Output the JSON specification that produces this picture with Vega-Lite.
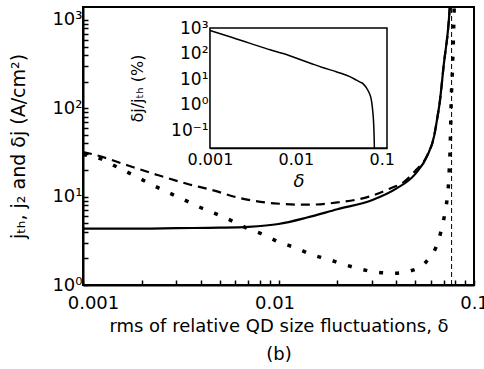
{
  "$schema": "https://vega.github.io/schema/vega-lite/v6.json",
  "autosize": {"type": "none"},
  "padding": {"left": 83, "top": 7, "right": 10, "bottom": 84},
  "width": 391,
  "height": 278,
  "background": "white",
  "config": {
    "font": "DejaVu Sans",
    "view": {"stroke": "black", "strokeWidth": 2},
    "axis": {
      "domainColor": "black", "domainWidth": 2, "tickColor": "black", "tickWidth": 1.5,
      "labelColor": "black", "titleColor": "black", "grid": false, "labelOverlap": false,
      "labelFlush": false, "titleFontWeight": "normal", "zindex": 1
    }
  },
  "datasets": {
    "main": [
      {"series": "jth", "delta": 0.001, "value": 4.35},
      {"series": "jth", "delta": 0.002, "value": 4.35},
      {"series": "jth", "delta": 0.003, "value": 4.4},
      {"series": "jth", "delta": 0.005, "value": 4.45},
      {"series": "jth", "delta": 0.007, "value": 4.55},
      {"series": "jth", "delta": 0.01, "value": 4.9},
      {"series": "jth", "delta": 0.014, "value": 5.8},
      {"series": "jth", "delta": 0.02, "value": 7.2},
      {"series": "jth", "delta": 0.03, "value": 9.1},
      {"series": "jth", "delta": 0.04, "value": 12.3},
      {"series": "jth", "delta": 0.05, "value": 18},
      {"series": "jth", "delta": 0.0577, "value": 29},
      {"series": "jth", "delta": 0.0626, "value": 49},
      {"series": "jth", "delta": 0.0646, "value": 73},
      {"series": "jth", "delta": 0.0667, "value": 114},
      {"series": "jth", "delta": 0.0701, "value": 316},
      {"series": "jth", "delta": 0.0742, "value": 930},
      {"series": "jth", "delta": 0.0752, "value": 1400},
      {"series": "j2", "delta": 0.001, "value": 32},
      {"series": "j2", "delta": 0.0012, "value": 29},
      {"series": "j2", "delta": 0.0017, "value": 22.5},
      {"series": "j2", "delta": 0.0024, "value": 17.6},
      {"series": "j2", "delta": 0.0034, "value": 14},
      {"series": "j2", "delta": 0.0045, "value": 12},
      {"series": "j2", "delta": 0.0064, "value": 9.6},
      {"series": "j2", "delta": 0.0095, "value": 8.4},
      {"series": "j2", "delta": 0.014, "value": 8.1},
      {"series": "j2", "delta": 0.02, "value": 8.6},
      {"series": "j2", "delta": 0.029, "value": 10},
      {"series": "j2", "delta": 0.037, "value": 12.3},
      {"series": "j2", "delta": 0.044, "value": 14.8},
      {"series": "j2", "delta": 0.05, "value": 19.5},
      {"series": "j2", "delta": 0.0577, "value": 29.5},
      {"series": "j2", "delta": 0.0626, "value": 49},
      {"series": "j2", "delta": 0.0646, "value": 73},
      {"series": "j2", "delta": 0.0667, "value": 114},
      {"series": "j2", "delta": 0.0701, "value": 316},
      {"series": "j2", "delta": 0.0742, "value": 930},
      {"series": "j2", "delta": 0.0752, "value": 1400},
      {"series": "dj", "delta": 0.001, "value": 30},
      {"series": "dj", "delta": 0.00125, "value": 26.5},
      {"series": "dj", "delta": 0.0015, "value": 21.5},
      {"series": "dj", "delta": 0.0018, "value": 17.6},
      {"series": "dj", "delta": 0.0022, "value": 14},
      {"series": "dj", "delta": 0.0026, "value": 11.7},
      {"series": "dj", "delta": 0.0032, "value": 9.5},
      {"series": "dj", "delta": 0.0039, "value": 7.7},
      {"series": "dj", "delta": 0.0047, "value": 6.5},
      {"series": "dj", "delta": 0.0057, "value": 5.4},
      {"series": "dj", "delta": 0.0069, "value": 4.4},
      {"series": "dj", "delta": 0.0084, "value": 3.7},
      {"series": "dj", "delta": 0.01, "value": 3.08},
      {"series": "dj", "delta": 0.0122, "value": 2.64},
      {"series": "dj", "delta": 0.0148, "value": 2.21},
      {"series": "dj", "delta": 0.0181, "value": 1.94},
      {"series": "dj", "delta": 0.0216, "value": 1.71},
      {"series": "dj", "delta": 0.0264, "value": 1.51},
      {"series": "dj", "delta": 0.032, "value": 1.39},
      {"series": "dj", "delta": 0.039, "value": 1.36},
      {"series": "dj", "delta": 0.0464, "value": 1.43},
      {"series": "dj", "delta": 0.0565, "value": 1.8},
      {"series": "dj", "delta": 0.064, "value": 2.7},
      {"series": "dj", "delta": 0.0679, "value": 4.1},
      {"series": "dj", "delta": 0.0708, "value": 6.3},
      {"series": "dj", "delta": 0.0728, "value": 9.3},
      {"series": "dj", "delta": 0.0741, "value": 14},
      {"series": "dj", "delta": 0.0748, "value": 21},
      {"series": "dj", "delta": 0.0754, "value": 32},
      {"series": "dj", "delta": 0.0758, "value": 50},
      {"series": "dj", "delta": 0.0764, "value": 114},
      {"series": "dj", "delta": 0.0775, "value": 260},
      {"series": "dj", "delta": 0.0787, "value": 800},
      {"series": "dj", "delta": 0.0792, "value": 1400}
    ],
    "vline": [{"delta": 0.0768, "lo": 1, "hi": 1400}],
    "inset": [
      {"delta": 0.001, "ratio": 800},
      {"delta": 0.0015, "ratio": 520},
      {"delta": 0.002, "ratio": 380},
      {"delta": 0.003, "ratio": 245},
      {"delta": 0.005, "ratio": 140},
      {"delta": 0.0071, "ratio": 100},
      {"delta": 0.01, "ratio": 67},
      {"delta": 0.015, "ratio": 41},
      {"delta": 0.02, "ratio": 29},
      {"delta": 0.03, "ratio": 19},
      {"delta": 0.0425, "ratio": 12.5},
      {"delta": 0.0508, "ratio": 9.1},
      {"delta": 0.057, "ratio": 7.4},
      {"delta": 0.0607, "ratio": 6.5},
      {"delta": 0.0664, "ratio": 4.5},
      {"delta": 0.071, "ratio": 3.0},
      {"delta": 0.0745, "ratio": 1.9},
      {"delta": 0.0765, "ratio": 1.2},
      {"delta": 0.0785, "ratio": 0.55},
      {"delta": 0.08, "ratio": 0.25},
      {"delta": 0.081, "ratio": 0.1},
      {"delta": 0.0815, "ratio": 0.05},
      {"delta": 0.082, "ratio": 0.02}
    ],
    "frame": [{"x0": 0.001, "x1": 0.115, "y0": 0.02, "y1": 1000}]
  },
  "layer": [
    {
      "encoding": {
        "x": {
          "field": "delta", "type": "quantitative",
          "scale": {"type": "log", "domain": [0.001, 0.1], "nice": false},
          "axis": {
            "orient": "bottom",
            "values": [0.001, 0.002, 0.003, 0.004, 0.005, 0.006, 0.007, 0.008, 0.009, 0.01, 0.02, 0.03, 0.04, 0.05, 0.06, 0.07, 0.08, 0.09, 0.1],
            "labelExpr": "datum.value == 0.001 ? '0.001' : datum.value == 0.01 ? '0.01' : datum.value == 0.1 ? '0.1' : ''",
            "labelOffset": {"condition": [{"test": "datum.value == 0.001", "value": 10}, {"test": "datum.value == 0.01", "value": -4}], "value": 0},
            "tickSize": -5, "labelPadding": 14, "labelFontSize": 18,
            "title": ["rms of relative QD size fluctuations, δ", "(b)"],
            "titleFontSize": 18, "titleLineHeight": 28, "titlePadding": 5
          }
        },
        "y": {
          "field": "value", "type": "quantitative",
          "scale": {"type": "log", "domain": [1, 1400], "nice": false},
          "axis": {
            "orient": "left",
            "values": [1, 2, 3, 4, 5, 6, 7, 8, 9, 10, 20, 30, 40, 50, 60, 70, 80, 90, 100, 200, 300, 400, 500, 600, 700, 800, 900, 1000],
            "labelExpr": "datum.value == 1 ? '10⁰' : datum.value == 10 ? '10¹' : datum.value == 100 ? '10²' : datum.value == 1000 ? '10³' : ''",
            "tickSize": -5, "labelPadding": 6, "labelFontSize": 18,
            "title": "jₜₕ, j₂ and δj (A/cm²)", "titleFontSize": 19, "titlePadding": 23
          }
        }
      },
      "layer": [
        {
          "data": {"name": "vline"},
          "mark": {"type": "rule", "color": "black", "strokeWidth": 1, "strokeDash": [5, 3]},
          "encoding": {
            "x": {"field": "delta", "type": "quantitative"},
            "y": {"field": "lo", "type": "quantitative"},
            "y2": {"field": "hi"}
          }
        },
        {
          "data": {"name": "main"},
          "transform": [{"filter": "datum.series == 'jth'"}],
          "mark": {"type": "line", "color": "black", "strokeWidth": 2.2, "clip": true, "interpolate": "monotone"}
        },
        {
          "data": {"name": "main"},
          "transform": [{"filter": "datum.series == 'j2'"}],
          "mark": {"type": "line", "color": "black", "strokeWidth": 2.2, "strokeDash": [9, 6], "clip": true, "interpolate": "monotone"}
        },
        {
          "data": {"name": "main"},
          "transform": [{"filter": "datum.series == 'dj'"}],
          "mark": {"type": "line", "color": "black", "strokeWidth": 3.5, "strokeDash": [4, 12], "clip": true, "interpolate": "monotone"}
        }
      ]
    },
    {
      "layer": [
        {
          "data": {"name": "frame"},
          "mark": {"type": "rect", "fill": "white", "stroke": "black", "strokeWidth": 1.5},
          "encoding": {
            "x": {"field": "x0", "type": "quantitative"},
            "x2": {"field": "x1"},
            "y": {"field": "y0", "type": "quantitative"},
            "y2": {"field": "y1"}
          }
        },
        {
          "data": {"name": "inset"},
          "mark": {"type": "line", "color": "black", "strokeWidth": 1.5, "clip": true, "interpolate": "monotone"},
          "encoding": {
            "x": {"field": "delta", "type": "quantitative"},
            "y": {"field": "ratio", "type": "quantitative"}
          }
        }
      ],
      "encoding": {
        "x": {
          "type": "quantitative",
          "scale": {"type": "log", "domain": [0.001, 0.115], "nice": false, "range": [127, 304]},
          "axis": {
            "orient": "bottom", "offset": -137,
            "values": [0.001, 0.002, 0.003, 0.004, 0.005, 0.006, 0.007, 0.008, 0.009, 0.01, 0.02, 0.03, 0.04, 0.05, 0.06, 0.07, 0.08, 0.09, 0.1],
            "labelExpr": "datum.value == 0.001 ? '0.001' : datum.value == 0.01 ? '0.01' : datum.value == 0.1 ? '0.1' : ''",
            "tickSize": -3, "tickWidth": 1, "domainWidth": 1.5, "labelPadding": 6, "labelFontSize": 16,
            "title": "δ", "titleFontSize": 18, "titleFontStyle": "italic", "titlePadding": 5
          }
        },
        "y": {
          "type": "quantitative",
          "scale": {"type": "log", "domain": [0.02, 1000], "nice": false, "range": [141, 21]},
          "axis": {
            "orient": "left", "offset": -127,
            "values": [0.1, 1, 10, 100, 1000],
            "labelExpr": "datum.value == 0.1 ? '10⁻¹' : datum.value == 1 ? '10⁰' : datum.value == 10 ? '10¹' : datum.value == 100 ? '10²' : '10³'",
            "tickSize": -3, "tickWidth": 1, "domainWidth": 1.5, "labelPadding": 5, "labelFontSize": 17,
            "title": "δj/jₜₕ (%)", "titleFontSize": 16, "titlePadding": 25
          }
        }
      }
    }
  ],
  "resolve": {"scale": {"x": "independent", "y": "independent"}}
}
